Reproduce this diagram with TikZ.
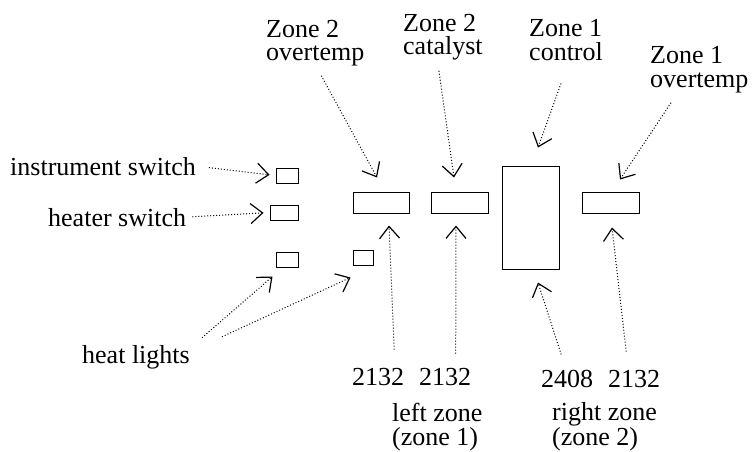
\documentclass[tikz,border=0pt]{standalone}
\usepackage{fontspec}
\setmainfont{Liberation Serif}
\usetikzlibrary{arrows.meta}

\tikzset{
  lbl/.style={font=\fontsize{26}{23.5}\selectfont, inner sep=0pt, anchor=base west},
  mlbl/.style={lbl, align=left},
  part/.style={draw, line width=1pt, inner sep=0pt},
  ptr/.style={dotted, line width=1pt, -{Straight Barb[length=12pt,width=20pt,line width=1.2pt]}},
}

\begin{document}
\begin{tikzpicture}[x=1pt,y=-1pt]
  \useasboundingbox (0,0) rectangle (752,452);

  \node[part, minimum width=22, minimum height=15] (instbox) at (287,175.5) {};
  \node[part, minimum width=28, minimum height=15] (heatbox) at (284,212.5) {};
  \node[part, minimum width=22, minimum height=15] (lightA) at (287,259.5) {};
  \node[part, minimum width=20, minimum height=15] (lightB) at (363,257.5) {};

  \node[part, minimum width=56, minimum height=21] (otwo) at (381,202.5) {};
  \node[part, minimum width=57, minimum height=21] (ctwo) at (459.5,202.5) {};
  \node[part, minimum width=57, minimum height=103] (cone) at (530.5,217.5) {};
  \node[part, minimum width=57, minimum height=21] (oone) at (610.5,202.5) {};

  \node[lbl] (inst) at (10,175) {instrument switch};
  \node[lbl] (heater) at (48,226) {heater switch};
  \node[lbl] (lights) at (82,363) {heat lights};

  \node[mlbl] (otwolbl) at (266,61) {Zone 2\\overtemp};
  \node[mlbl] (ctwolbl) at (403,55) {Zone 2\\catalyst};
  \node[mlbl] (conelbl) at (529,60) {Zone 1\\control};
  \node[mlbl] (oonelbl) at (650,87) {Zone 1\\overtemp};

  \node[lbl] (nA) at (352,385) {2132};
  \node[lbl] (nB) at (419,385) {2132};
  \node[lbl] (nC) at (541,387) {2408};
  \node[lbl] (nD) at (608,387) {2132};
  \node[mlbl] (leftz) at (392,445) {left zone\\(zone 1)};
  \node[mlbl] (rightz) at (552,445) {right zone\\(zone 2)};

  \draw[ptr, shorten <=13pt, shorten >=6pt] (inst.east) -- (instbox.west);
  \draw[ptr, shorten <=6pt, shorten >=6pt] (heater.east) -- (heatbox.west);
  \draw[ptr] ([shift={(12,-7)}]lights.north east) -- ([shift={(-3,9)}]lightA.south west);
  \draw[ptr] ([shift={(32,-8)}]lights.north east) -- ([shift={(-2,12)}]lightB.south west);

  \draw[ptr] ([shift={(6,9)}]otwolbl.south) -- ([shift={(-4,-14)}]otwo.north);
  \draw[ptr] ([shift={(-4,10)}]ctwolbl.south) -- ([shift={(-5.5,-14)}]ctwo.north);
  \draw[ptr] ([shift={(-5,23)}]conelbl.south) -- ([shift={(7.5,-18)}]cone.north);
  \draw[ptr] ([shift={(21,10)}]oonelbl.south west) -- ([shift={(9.5,-12)}]oone.north);

  \draw[ptr] ([shift={(16,-18)}]nA.north) -- ([shift={(8,12)}]otwo.south);
  \draw[ptr] ([shift={(10.5,-14)}]nB.north) -- ([shift={(-3.5,12)}]ctwo.south);
  \draw[ptr] ([shift={(-6,-15)}]nC.north) -- ([shift={(7.5,13)}]cone.south);
  \draw[ptr] ([shift={(-8,-18)}]nD.north) -- ([shift={(1.5,14)}]oone.south);
\end{tikzpicture}
\end{document}
